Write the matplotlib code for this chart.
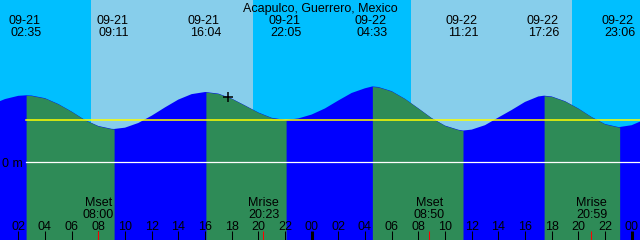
"""Grafico de mare - Acapulco (estilo XTide)."""

import matplotlib
matplotlib.use("Agg")

import matplotlib.pyplot as plt
import numpy as np


TITLE = "Acapulco, Guerrero, Mexico"

# preia-mar / baixa-mar (altura em m)
extreme_dates = ["09-21", "09-21", "09-21", "09-21", "09-22", "09-22", "09-22", "09-22"]
extreme_times = ["02:35", "09:11", "16:04", "22:05", "04:33", "11:21", "17:26", "23:06"]
extreme_heights = [0.513, 0.254, 0.538, 0.323, 0.581, 0.242, 0.510, 0.269]

# altura a cada hora, de 09-21 00:00 em diante (m)
hourly_heights = [
    0.442, 0.484, 0.509, 0.511, 0.491, 0.446, 0.388, 0.323, 0.277, 0.255,
    0.264, 0.300, 0.356, 0.420, 0.480, 0.522, 0.538, 0.526, 0.488, 0.435,
    0.381, 0.340, 0.324, 0.335, 0.365, 0.412, 0.473, 0.531, 0.567, 0.577,
    0.545, 0.486, 0.413, 0.338, 0.280, 0.248, 0.249, 0.283, 0.342, 0.400,
    0.462, 0.504, 0.504, 0.468, 0.412, 0.346, 0.292, 0.269, 0.283, 0.327,
]

moon_events = ["Mset", "Mrise", "Mset", "Mrise"]
moon_dates = ["09-21", "09-21", "09-22", "09-22"]
moon_times = ["08:00", "20:23", "08:50", "20:59"]

sunrise = [("09-21", "07:27"), ("09-22", "07:27")]
sunset = [("09-21", "19:36"), ("09-22", "19:31")]

msl = 0.321
now = ("09-21", "17:45")
now_height = 0.498

_COLORS = {
    "night": "#00BFFF",
    "day": "#87CEEB",
    "rising": "#0000FF",
    "falling": "#2E8B57",
    "msl": "#FFFF00",
    "datum": "#FFFFFF",
    "moon": "#FF0000",
}

_STYLE = {
    "font.family": ["Liberation Sans", "DejaVu Sans"],
    "font.size": 9,
    "text.color": "black",
}

X0, X1 = 0.625, 48.625
Y0, Y1 = -0.60, 1.246
H_PX = 240.0
W_PX = 640.0


def _hours(date, hm):
    day = int(date.split("-")[1]) - 21
    h, m = hm.split(":")
    return 24 * day + int(h) + int(m) / 60.0


def _fy(px):
    # posicao vertical em pixels (a partir do topo) -> fracao do eixo
    return 1.0 - px / H_PX


def plot_tide(path="out.png"):
    ext_t = np.array([_hours(d, t) for d, t in zip(extreme_dates, extreme_times)])
    ext_h = np.array(extreme_heights)
    hr_t = np.arange(len(hourly_heights), dtype=float)

    t = np.concatenate([hr_t, ext_t])
    h = np.concatenate([np.array(hourly_heights), ext_h])
    order = np.argsort(t)
    t, h = t[order], h[order]

    with plt.rc_context(_STYLE):
        fig = plt.figure(figsize=(6.4, 2.4), dpi=100)
        ax = fig.add_axes([0, 0, 1, 1])
        ax.set_xlim(X0, X1)
        ax.set_ylim(Y0, Y1)
        ax.set_axis_off()
        ax.add_patch(plt.Rectangle((0, 0), 1, 1, transform=ax.transAxes,
                                   color=_COLORS["night"], lw=0, zorder=0))

        # dia / noite
        for (d0, t0), (d1, t1) in zip(sunrise, sunset):
            ax.axvspan(_hours(d0, t0), _hours(d1, t1), color=_COLORS["day"], lw=0, zorder=0.5)

        # agua: subindo (azul), descendo (verde)
        ax.fill_between(t, h, Y0, color=_COLORS["rising"], lw=0, zorder=1)
        for i in range(len(ext_t) - 1):
            if ext_h[i + 1] < ext_h[i]:
                m = (t >= ext_t[i]) & (t <= ext_t[i + 1])
                ax.fill_between(t[m], h[m], Y0, color=_COLORS["falling"], lw=0, zorder=1.1)

        # linhas de referencia
        ax.axhline(msl, xmin=26 / W_PX, color=_COLORS["msl"], lw=1.1, zorder=2)
        ax.axhline(0, xmin=26 / W_PX, color=_COLORS["datum"], lw=0.9, zorder=2)
        ax.text(2.5 / W_PX, _fy(167.3), "0 m", transform=ax.transAxes,
                ha="left", va="baseline", zorder=3)

        # marcador do instante atual
        ax.plot(_hours(*now), now_height, marker="+", ms=7, mew=1.1,
                color="black", zorder=4)

        tr = ax.get_xaxis_transform()

        # titulo e rotulos dos extremos
        ax.text(0.5, _fy(12), TITLE, transform=ax.transAxes, ha="center", va="baseline")
        for d, hm, x in zip(extreme_dates, extreme_times, ext_t):
            ax.annotate(d, xy=(x, _fy(24)), xycoords=tr, xytext=(-1.4, 0),
                        textcoords="offset points", ha="center", va="baseline")
            ax.text(x, _fy(36), hm, transform=tr, ha="center", va="baseline")

        # eixo das horas
        hours = np.arange(2, 49, 2)
        for hh in hours:
            lw = 2.2 if hh % 24 == 0 else 0.75
            ax.vlines(hh, 0, 9 / H_PX, transform=tr, color="black", lw=lw, zorder=3)
            ax.text(hh, _fy(230), f"{hh % 24:02d}", transform=tr,
                    ha="center", va="baseline", zorder=3)

        # lua
        for ev, d, hm in zip(moon_events, moon_dates, moon_times):
            x = _hours(d, hm)
            ax.vlines(x, 0, 9 / H_PX, transform=tr, color=_COLORS["moon"], lw=0.75, zorder=3.5)
            ax.text(x, _fy(206), ev, transform=tr, ha="center", va="baseline", zorder=3)
            ax.text(x, _fy(218.3), hm, transform=tr, ha="center", va="baseline", zorder=3)

        fig.savefig(path, dpi=100)
        plt.close(fig)
    return path


if __name__ == "__main__":
    plot_tide("out.png")
